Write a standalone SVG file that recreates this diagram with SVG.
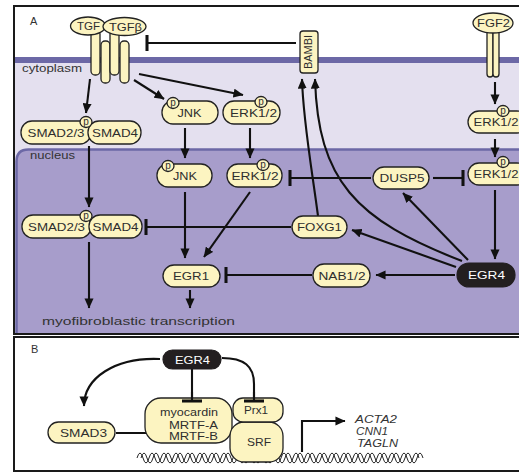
<svg xmlns="http://www.w3.org/2000/svg" width="519" height="473" viewBox="0 0 519 473">
<defs>
<style>
.nd{fill:#fcf4c1;stroke:#222;stroke-width:1.3}
.dk{fill:#231f20;stroke:#231f20;stroke-width:1.2}
.t{font-family:"Liberation Sans",Arial,sans-serif;font-size:11px;fill:#2e2e2e;text-anchor:middle}
.tw{fill:#fff}
.pl{font-family:"Liberation Sans",Arial,sans-serif;font-size:10px;fill:#2e2e2e;text-anchor:middle}
.lab{font-family:"Liberation Sans",Arial,sans-serif;font-size:11px;fill:#333}
.gene{font-family:"Liberation Sans",Arial,sans-serif;font-size:10.5px;font-style:italic;fill:#333}
.c path{fill:none;stroke:#111;stroke-width:2.1}
.a{marker-end:url(#ah)}
.i{marker-end:url(#tee)}
.i2{marker-end:url(#tee2)}
.dna{fill:none;stroke:#222;stroke-width:1}
</style>
<marker id="ah" viewBox="0 0 10 9" refX="9.5" refY="4.5" markerWidth="4.8" markerHeight="4.3" orient="auto" preserveAspectRatio="none"><path d="M0,0 L10,4.5 L0,9 z" fill="#111"/></marker>
<marker id="tee" viewBox="0 0 3 16" refX="1.5" refY="8" markerWidth="1.45" markerHeight="7.7" orient="auto" preserveAspectRatio="none"><rect x="0" y="0" width="3" height="16" fill="#111"/></marker>
<marker id="tee2" viewBox="0 0 3 20" refX="1.5" refY="10" markerWidth="1.45" markerHeight="9.6" orient="auto" preserveAspectRatio="none"><rect x="0" y="0" width="3" height="20" fill="#111"/></marker>
</defs>
<rect width="519" height="473" fill="#fff"/>

<!-- Panel A background -->
<g id="panelA-bg">
<rect x="15" y="60" width="520" height="274" fill="#e4e0ef"/>
<rect x="15" y="57" width="520" height="6" fill="#6c68a6"/>
<path d="M16.5,334 L16.5,161.5 Q16.5,149.5 28.5,149.5 L535,149.5 L535,334 Z" fill="#a79dcb"/>
<path d="M16.5,334 L16.5,161.5 Q16.5,149.5 28.5,149.5 L535,149.5" fill="none" stroke="#6c68a6" stroke-width="2.5"/>
<rect x="14" y="6" width="520" height="328" fill="none" stroke="#1a1a1a" stroke-width="2"/>
<text class="lab" x="30" y="25">A</text>
<text class="lab" x="22" y="72" font-size="9.5" fill="#444" textLength="60" lengthAdjust="spacingAndGlyphs">cytoplasm</text>
<text class="lab" x="30" y="159" font-size="9.5" fill="#444" textLength="45" lengthAdjust="spacingAndGlyphs">nucleus</text>
<text class="lab" x="42" y="325" font-size="12" fill="#3a3a3a" textLength="193" lengthAdjust="spacingAndGlyphs">myofibroblastic transcription</text>
</g>

<!-- Panel B background -->
<g id="panelB-bg">
<rect x="14" y="337" width="520" height="134" fill="#fff" stroke="#1a1a1a" stroke-width="2"/>
<text class="lab" x="31" y="353">B</text>
</g>

<!-- DNA -->
<g id="dna">
<path class="dna" d="M137,458 q3,-10 6,0 t6,0 t6,0 t6,0 t6,0 t6,0 t6,0 t6,0 t6,0 t6,0 t6,0 t6,0 t6,0 t6,0 t6,0 t6,0 t6,0 t6,0 t6,0 t6,0 t6,0 t6,0 t6,0 t6,0 t6,0 t6,0 t6,0 t6,0 t6,0 t6,0 t6,0 t6,0 t6,0 t6,0 t6,0 t6,0 t6,0 t6,0 t6,0 t6,0 t6,0 t6,0 t6,0 t6,0 t6,0 t6,0 t6,0"/>
<path class="dna" d="M141,458 q3,-10 6,0 t6,0 t6,0 t6,0 t6,0 t6,0 t6,0 t6,0 t6,0 t6,0 t6,0 t6,0 t6,0 t6,0 t6,0 t6,0 t6,0 t6,0 t6,0 t6,0 t6,0 t6,0 t6,0 t6,0 t6,0 t6,0 t6,0 t6,0 t6,0 t6,0 t6,0 t6,0 t6,0 t6,0 t6,0 t6,0 t6,0 t6,0 t6,0 t6,0 t6,0 t6,0 t6,0 t6,0 t6,0 t6,0 t6,0"/>
</g>

<!-- Connectors -->
<g id="connectors" class="c">
<path class="a" d="M90,79 L86,113"/>
<path class="a" d="M134,80 L164,99"/>
<path class="a" d="M139,74 L243,95"/>
<path class="a" d="M185,128 L185,158"/>
<path class="a" d="M250,128 L250,158"/>
<path class="a" d="M495,82 L495,104"/>
<path class="a" d="M495,139 L495,157"/>
<path class="a" d="M89,146 L89,207"/>
<path class="a" d="M89,242 L89,308"/>
<path class="a" d="M185,192 L185,258"/>
<path class="a" d="M250,192 L204,257"/>
<path class="a" d="M190,290 L190,308"/>
<path class="a" d="M495,190 L495,259"/>
<path class="a" d="M455,275 L376,275"/>
<path class="a" d="M456,267 L352,230"/>
<path class="a" d="M468,260 L403,193"/>
<path class="a" d="M462,261 C355,220 318,180 315,79"/>
<path class="a" d="M318,216 C312,170 303,120 302,79"/>
<path class="i" d="M296,43 L147,43"/>
<path class="i" d="M371,178 L290,178"/>
<path class="i" d="M433,178 L463,178"/>
<path class="i" d="M291,227 L146,227"/>
<path class="i" d="M312,275 L226,275"/>
<path class="a" d="M160,359 C115,357 84,378 84,406"/>
<path class="i2" d="M116,433 L163,433"/>
<path class="i2" d="M192,369 L192,401"/>
<path class="i2" d="M222,358 C244,358 254,366 254,384 L254,401"/>
<path class="a" d="M302,452 L302,421 L345,421"/>
</g>

<!-- Panel A nodes -->
<g id="tgfb-receptor">
<rect class="nd" x="91" y="30" width="9" height="45" rx="4"/>
<rect class="nd" x="101" y="41" width="9" height="42" rx="4"/>
<rect class="nd" x="110" y="30" width="9" height="45" rx="4"/>
<rect class="nd" x="120" y="41" width="9" height="42" rx="4"/>
<ellipse class="nd" cx="88" cy="26" rx="17.5" ry="9"/>
<text class="t" x="88.5" y="30" textLength="23" lengthAdjust="spacingAndGlyphs">TGF</text>
<ellipse class="nd" cx="124.5" cy="26.5" rx="21.5" ry="9"/>
<text class="t" x="125.5" y="30.5" textLength="33" lengthAdjust="spacingAndGlyphs">TGFβ</text>
</g>
<g id="bambi">
<rect class="nd" x="300" y="31" width="18" height="42" rx="3"/>
<text class="t" x="309" y="55.2" font-size="9.5" transform="rotate(-90 309 52)" textLength="34" lengthAdjust="spacingAndGlyphs">BAMBI</text>
</g>
<g id="fgf2-receptor">
<rect class="nd" x="487" y="30" width="6" height="47" rx="3"/>
<rect class="nd" x="493" y="30" width="6" height="47" rx="3"/>
<ellipse class="nd" cx="493" cy="23" rx="20" ry="10"/>
<text class="t" x="493.5" y="27" textLength="33" lengthAdjust="spacingAndGlyphs">FGF2</text>
</g>
<g id="smad-cyto">
<rect class="nd" x="21" y="121" width="70" height="23" rx="11"/>
<rect class="nd" x="88" y="121" width="53" height="23" rx="11"/>
<text class="t" x="56" y="136.5" textLength="57" lengthAdjust="spacingAndGlyphs">SMAD2/3</text>
<text class="t" x="115" y="136.5" textLength="46" lengthAdjust="spacingAndGlyphs">SMAD4</text>
<ellipse class="nd" cx="86" cy="122" rx="6" ry="5.5"/>
<text class="pl" x="86" y="124.5">p</text>
</g>
<g id="jnk-cyto">
<rect class="nd" x="162" y="101" width="56" height="23" rx="11"/>
<text class="t" x="189.5" y="116.5" textLength="24" lengthAdjust="spacingAndGlyphs">JNK</text>
<ellipse class="nd" cx="173" cy="103" rx="6" ry="5.5"/>
<text class="pl" x="173" y="105.5">p</text>
</g>
<g id="erk-cyto-left">
<rect class="nd" x="223" y="101" width="57" height="23" rx="11"/>
<text class="t" x="253.5" y="116.5" textLength="47" lengthAdjust="spacingAndGlyphs">ERK1/2</text>
<ellipse class="nd" cx="261" cy="102" rx="6" ry="5.5"/>
<text class="pl" x="261" y="104.5">p</text>
</g>
<g id="erk-cyto-right">
<rect class="nd" x="468" y="111" width="60" height="22" rx="11"/>
<text class="t" x="496" y="126" textLength="45" lengthAdjust="spacingAndGlyphs">ERK1/2</text>
<ellipse class="nd" cx="503" cy="111" rx="6" ry="5.5"/>
<text class="pl" x="503" y="113.5">p</text>
</g>
<g id="jnk-nuc">
<rect class="nd" x="157" y="164" width="55" height="23" rx="11"/>
<text class="t" x="185" y="179.5" textLength="24" lengthAdjust="spacingAndGlyphs">JNK</text>
<ellipse class="nd" cx="168" cy="166" rx="6" ry="5.5"/>
<text class="pl" x="168" y="168.5">p</text>
</g>
<g id="erk-nuc-left">
<rect class="nd" x="227" y="164" width="55" height="23" rx="11"/>
<text class="t" x="255" y="179.5" textLength="47" lengthAdjust="spacingAndGlyphs">ERK1/2</text>
<ellipse class="nd" cx="263" cy="165" rx="6" ry="5.5"/>
<text class="pl" x="263" y="167.5">p</text>
</g>
<g id="dusp5">
<rect class="nd" x="373" y="167" width="56" height="22" rx="11"/>
<text class="t" x="402" y="182" textLength="45" lengthAdjust="spacingAndGlyphs">DUSP5</text>
</g>
<g id="erk-nuc-right">
<rect class="nd" x="468" y="163" width="60" height="22" rx="11"/>
<text class="t" x="496" y="178" textLength="45" lengthAdjust="spacingAndGlyphs">ERK1/2</text>
<ellipse class="nd" cx="503" cy="162" rx="6" ry="5.5"/>
<text class="pl" x="503" y="164.5">p</text>
</g>
<g id="smad-nuc">
<rect class="nd" x="22" y="215" width="69" height="23" rx="11"/>
<rect class="nd" x="89" y="215" width="53" height="23" rx="11"/>
<text class="t" x="56.5" y="230.5" textLength="57" lengthAdjust="spacingAndGlyphs">SMAD2/3</text>
<text class="t" x="115.5" y="230.5" textLength="46" lengthAdjust="spacingAndGlyphs">SMAD4</text>
<ellipse class="nd" cx="86" cy="216" rx="6" ry="5.5"/>
<text class="pl" x="86" y="218.5">p</text>
</g>
<g id="foxg1">
<rect class="nd" x="292" y="216" width="55" height="22" rx="11"/>
<text class="t" x="319.5" y="231" textLength="45" lengthAdjust="spacingAndGlyphs">FOXG1</text>
</g>
<g id="egr1">
<rect class="nd" x="163" y="265" width="57" height="22" rx="11"/>
<text class="t" x="191" y="280" textLength="36" lengthAdjust="spacingAndGlyphs">EGR1</text>
</g>
<g id="nab12">
<rect class="nd" x="313" y="264" width="57" height="23" rx="11"/>
<text class="t" x="342" y="279.5" textLength="47" lengthAdjust="spacingAndGlyphs">NAB1/2</text>
</g>
<g id="egr4-a">
<rect class="dk" x="457" y="263" width="58" height="24" rx="12"/>
<text class="t tw" x="486.5" y="279" textLength="37" lengthAdjust="spacingAndGlyphs">EGR4</text>
</g>

<!-- Panel B nodes -->
<g id="egr4-b">
<rect class="dk" x="163" y="350" width="58" height="19" rx="9.5"/>
<text class="t tw" x="192.5" y="363.5" textLength="35" lengthAdjust="spacingAndGlyphs">EGR4</text>
</g>
<g id="smad3">
<rect class="nd" x="48" y="422" width="67" height="21" rx="10.5"/>
<text class="t" x="83.5" y="436.5" textLength="47" lengthAdjust="spacingAndGlyphs">SMAD3</text>
</g>
<g id="myocardin">
<rect class="nd" x="145" y="398" width="87" height="45" rx="16"/>
<text class="t" x="189" y="416" textLength="58" lengthAdjust="spacingAndGlyphs">myocardin</text>
<text class="t" x="193.5" y="429" textLength="49" lengthAdjust="spacingAndGlyphs">MRTF-A</text>
<text class="t" x="193.5" y="440" textLength="49" lengthAdjust="spacingAndGlyphs">MRTF-B</text>
</g>
<g id="srf">
<rect class="nd" x="230" y="422" width="53" height="40" rx="14"/>
<text class="t" x="259" y="446" textLength="24" lengthAdjust="spacingAndGlyphs">SRF</text>
</g>
<g id="prx1">
<rect class="nd" x="233" y="398" width="50" height="24" rx="10"/>
<text class="t" x="256" y="414" textLength="24" lengthAdjust="spacingAndGlyphs">Prx1</text>
</g>
<g id="genes">
<text class="gene" x="355" y="423" textLength="42" lengthAdjust="spacingAndGlyphs">ACTA2</text>
<text class="gene" x="356" y="435" textLength="32" lengthAdjust="spacingAndGlyphs">CNN1</text>
<text class="gene" x="357" y="447" textLength="41" lengthAdjust="spacingAndGlyphs">TAGLN</text>
</g>
<!-- tee ends drawn over nodes -->
<g id="connectors-top" class="c">
<path class="i2" d="M192,392 L192,401"/>
<path class="i2" d="M254,392 L254,401"/>
</g>
</svg>
